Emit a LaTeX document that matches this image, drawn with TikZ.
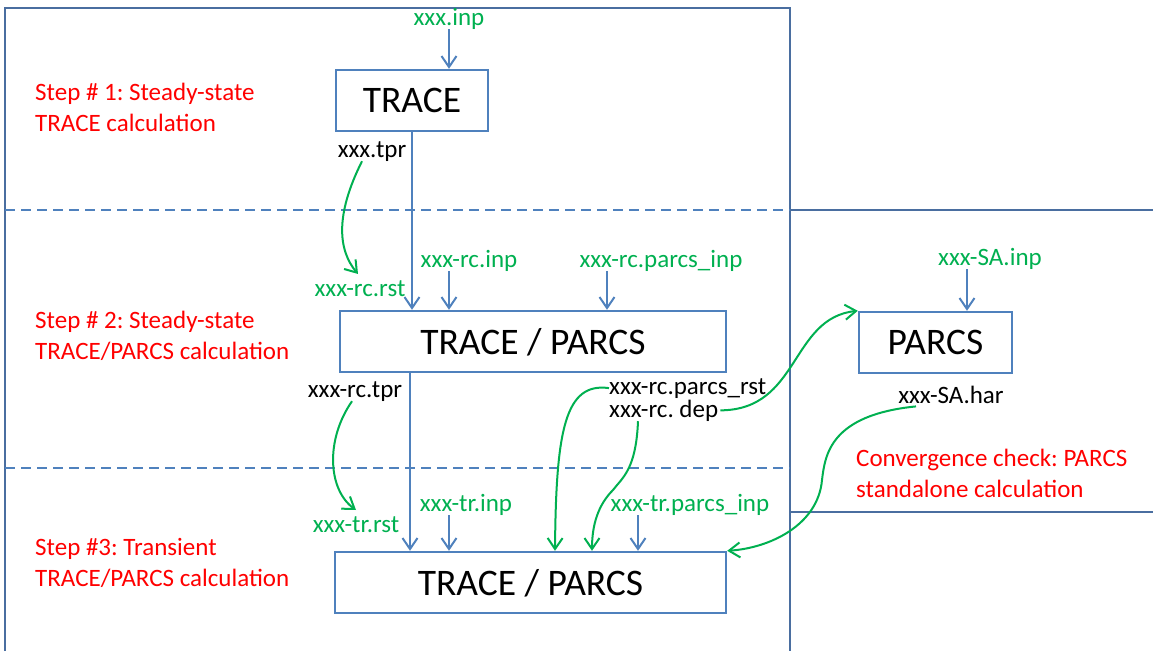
\documentclass[tikz,border=0pt]{standalone}
\usepackage{fontspec}
\setmainfont{Carlito}
\usetikzlibrary{arrows.meta,calc}
\definecolor{obl}{RGB}{79,129,189}
\definecolor{frm}{RGB}{74,110,160}
\definecolor{ogr}{RGB}{0,176,80}
\definecolor{ored}{RGB}{255,0,0}
\frenchspacing
\begin{document}
\begin{tikzpicture}[x=1pt,y=-1pt,
 box/.style={draw=obl,line width=2.4pt,inner sep=0pt,text depth=0pt,font=\fontsize{37.5}{40}\selectfont},
 lbl/.style={inner sep=0pt,font=\fontsize{25}{30}\selectfont,anchor=base},
 glbl/.style={lbl,text=ogr},
 steptext/.style={inner sep=0pt,font=\fontsize{25}{31}\selectfont,text=ored,align=left,anchor=base west},
 barrow/.style={draw=obl,line width=2pt,-{Straight Barb[length=11pt,width=15pt]}},
 garrow/.style={draw=ogr,line width=2pt,-{Straight Barb[length=11pt,width=15pt]}},
 frame/.style={draw=frm,line width=1.3pt},
 sepline/.style={draw=obl,line width=2.6pt,dash pattern=on 10pt off 6pt}]
\useasboundingbox (0,0) rectangle (1153,651);
% frame and separators
\draw[frame] (5,651) -- (5,8) -- (790,8) -- (790,651);
\draw[frame] (790,210) -- (1153,210);
\draw[frame] (790,512) -- (1153,512);
\draw[sepline] (5,210) -- (790,210);
\draw[sepline] (5,468) -- (790,468);
% boxes
\node[box,minimum width=152pt,minimum height=61pt] (trace) at (412,100.5) {TRACE};
\node[box,minimum width=386pt,minimum height=61pt] (tp1) at (533,341.5) {TRACE / PARCS};
\node[box,minimum width=391pt,minimum height=61pt] (tp2) at (530.5,582.5) {TRACE / PARCS};
\node[box,minimum width=153pt,minimum height=61pt] (parcs) at (935.5,342.5) {PARCS};
% step texts (anchored at the baseline of their last line)
\node[steptext] (s1) at (35,131) {Step \# 1: Steady-state\\TRACE calculation};
\node[steptext] (s2) at (35,359) {Step \# 2: Steady-state\\TRACE/PARCS calculation};
\node[steptext] (s3) at (35,586) {Step \#3: Transient\\TRACE/PARCS calculation};
\node[steptext] (cc) at (856,497) {Convergence check: PARCS\\standalone calculation};
% labels
\node[glbl] (inp) at (449,25) {xxx.inp};
\node[lbl] (tpr) at (372,157) {xxx.tpr};
\node[glbl] (rcrst) at (360,296) {xxx-rc.rst};
\node[glbl] (rcinp) at (469,267) {xxx-rc.inp};
\node[glbl] (rcpinp) at (661,267) {xxx-rc.parcs\_inp};
\node[lbl] (rctpr) at (355,397) {xxx-rc.tpr};
\node[lbl,anchor=base west] (rcprst) at (609,394) {xxx-rc.parcs\_rst};
\node[lbl,anchor=base west] (rcdep) at (609,417) {xxx-rc. dep};
\node[glbl] (sainp) at (990,265) {xxx-SA.inp};
\node[lbl] (sahar) at (951,403) {xxx-SA.har};
\node[glbl] (trrst) at (356,532) {xxx-tr.rst};
\node[glbl] (trinp) at (466,511) {xxx-tr.inp};
\node[glbl] (trpinp) at (690,511) {xxx-tr.parcs\_inp};
% blue arrows
\draw[barrow] (inp.south) -- (inp.south |- trace.north);
\draw[barrow] (trace.south) -- (trace.south |- tp1.north);
\draw[barrow] ([xshift=-20pt]rcinp.south) -- ([xshift=-20pt]rcinp.south |- tp1.north);
\draw[barrow] ([xshift=-54pt]rcpinp.south) -- ([xshift=-54pt]rcpinp.south |- tp1.north);
\draw[barrow] ([xshift=-23pt]sainp.south) -- ([xshift=-23pt]sainp.south |- parcs.north);
\draw[barrow] ([xshift=-123pt]tp1.south) -- ([xshift=-123pt]tp1.south |- tp2.north);
\draw[barrow] ([xshift=-17pt]trinp.south) -- ([xshift=-17pt]trinp.south |- tp2.north);
\draw[barrow] ([xshift=-52pt]trpinp.south) -- ([xshift=-52pt]trpinp.south |- tp2.north);
% green arrows
\draw[garrow] ([xshift=-10pt]tpr.south) .. controls (335,215) and (338,250) .. ([xshift=-2pt,yshift=6pt]rcrst.north);
\draw[garrow] ([xshift=-3pt]rctpr.south) .. controls (325,440) and (328,490) .. ([yshift=6pt]trrst.north);
\draw[garrow] (rcprst.west) .. controls (565,382) and (556,430) .. ([xshift=24.5pt]tp2.north);
\draw[garrow] ([xshift=29pt]rcdep.south west) .. controls (636,470) and (622,478) .. (613,490) .. controls (598,505) and (592,525) .. ([xshift=61.5pt]tp2.north);
\draw[garrow] ([xshift=2pt]rcdep.east) .. controls (800,410) and (790,318) .. (parcs.north west);
\draw[garrow] ([xshift=-35pt,yshift=-3pt]sahar.south) .. controls (830,415) and (825,455) .. (822,480) .. controls (818,525) and (770,548) .. (tp2.north east);
\end{tikzpicture}
\end{document}
